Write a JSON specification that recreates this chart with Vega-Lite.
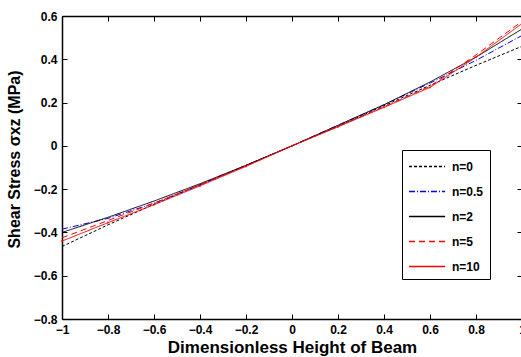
{
  "$schema": "https://vega.github.io/schema/vega-lite/v6.json",
  "autosize": "none",
  "width": 460,
  "height": 303,
  "padding": {"left": 62, "top": 16, "right": 0, "bottom": 38},
  "background": "white",
  "config": {
    "view": {"stroke": null},
    "font": "Liberation Sans",
    "axis": {
      "grid": false,
      "domainColor": "black",
      "domainWidth": 1.5,
      "tickColor": "black",
      "tickWidth": 1,
      "tickSize": -5,
      "labelFont": "Liberation Sans",
      "labelFontWeight": "bold",
      "labelFontSize": 12,
      "labelColor": "black",
      "titleFont": "Liberation Sans",
      "titleFontWeight": "bold",
      "titleFontSize": 16,
      "titleColor": "black"
    }
  },
  "data": {
    "values": [
      {"x": -1, "y": -0.465, "s": "n=0"}, {"x": -0.8, "y": -0.365, "s": "n=0"}, {"x": -0.6, "y": -0.27, "s": "n=0"}, {"x": -0.4, "y": -0.18, "s": "n=0"}, {"x": -0.2, "y": -0.09, "s": "n=0"}, {"x": 0, "y": 0, "s": "n=0"}, {"x": 0.2, "y": 0.09, "s": "n=0"}, {"x": 0.4, "y": 0.185, "s": "n=0"}, {"x": 0.6, "y": 0.28, "s": "n=0"}, {"x": 0.8, "y": 0.372, "s": "n=0"}, {"x": 1, "y": 0.46, "s": "n=0"},
      {"x": -1, "y": -0.385, "s": "n=0.5"}, {"x": -0.8, "y": -0.335, "s": "n=0.5"}, {"x": -0.6, "y": -0.265, "s": "n=0.5"}, {"x": -0.4, "y": -0.18, "s": "n=0.5"}, {"x": -0.2, "y": -0.09, "s": "n=0.5"}, {"x": 0, "y": 0, "s": "n=0.5"}, {"x": 0.2, "y": 0.095, "s": "n=0.5"}, {"x": 0.4, "y": 0.19, "s": "n=0.5"}, {"x": 0.6, "y": 0.29, "s": "n=0.5"}, {"x": 0.8, "y": 0.395, "s": "n=0.5"}, {"x": 1, "y": 0.51, "s": "n=0.5"},
      {"x": -1, "y": -0.4, "s": "n=2"}, {"x": -0.8, "y": -0.33, "s": "n=2"}, {"x": -0.6, "y": -0.255, "s": "n=2"}, {"x": -0.4, "y": -0.175, "s": "n=2"}, {"x": -0.2, "y": -0.09, "s": "n=2"}, {"x": 0, "y": 0, "s": "n=2"}, {"x": 0.2, "y": 0.095, "s": "n=2"}, {"x": 0.4, "y": 0.19, "s": "n=2"}, {"x": 0.6, "y": 0.295, "s": "n=2"}, {"x": 0.8, "y": 0.41, "s": "n=2"}, {"x": 1, "y": 0.54, "s": "n=2"},
      {"x": -1, "y": -0.425, "s": "n=5"}, {"x": -0.8, "y": -0.345, "s": "n=5"}, {"x": -0.6, "y": -0.265, "s": "n=5"}, {"x": -0.4, "y": -0.18, "s": "n=5"}, {"x": -0.2, "y": -0.093, "s": "n=5"}, {"x": 0, "y": 0, "s": "n=5"}, {"x": 0.2, "y": 0.09, "s": "n=5"}, {"x": 0.4, "y": 0.18, "s": "n=5"}, {"x": 0.6, "y": 0.275, "s": "n=5"}, {"x": 0.8, "y": 0.42, "s": "n=5"}, {"x": 1, "y": 0.575, "s": "n=5"},
      {"x": -1, "y": -0.44, "s": "n=10"}, {"x": -0.8, "y": -0.355, "s": "n=10"}, {"x": -0.6, "y": -0.272, "s": "n=10"}, {"x": -0.4, "y": -0.185, "s": "n=10"}, {"x": -0.2, "y": -0.095, "s": "n=10"}, {"x": 0, "y": 0, "s": "n=10"}, {"x": 0.2, "y": 0.088, "s": "n=10"}, {"x": 0.4, "y": 0.178, "s": "n=10"}, {"x": 0.6, "y": 0.27, "s": "n=10"}, {"x": 0.8, "y": 0.41, "s": "n=10"}, {"x": 1, "y": 0.565, "s": "n=10"}
    ]
  },
  "resolve": {"axis": {"x": "independent", "y": "independent"}},
  "layer": [
    {
      "mark": {"type": "line", "strokeWidth": 1},
      "encoding": {
        "x": {"field": "x", "type": "quantitative", "scale": {"domain": [-1, 1], "nice": false},
          "axis": {"title": "Dimensionless Height of Beam", "titleFontSize": 17, "values": [-1, -0.8, -0.6, -0.4, -0.2, 0, 0.2, 0.4, 0.6, 0.8, 1], "labelPadding": 10, "titleY": 20, "titleBaseline": "top", "labelFlush": false, "format": "~g"}},
        "y": {"field": "y", "type": "quantitative", "scale": {"domain": [-0.8, 0.6], "nice": false},
          "axis": {"title": "Shear Stress σxz (MPa)", "values": [-0.8, -0.6, -0.4, -0.2, 0, 0.2, 0.4, 0.6], "labelPadding": 10, "titleX": -40, "titleY": 143, "labelFlush": false, "format": "~g"}},
        "color": {"field": "s", "type": "nominal",
          "scale": {"domain": ["n=0", "n=0.5", "n=2", "n=5", "n=10"], "range": ["black", "#0000ff", "black", "red", "red"]},
          "legend": {"title": null, "orient": "none", "legendX": 340, "legendY": 134, "direction": "vertical",
            "fillColor": "white", "strokeColor": "black", "padding": 6, "rowPadding": 8,
            "symbolType": "M-1,0H2.8", "symbolSize": 361, "symbolStrokeWidth": 1.3, "symbolOpacity": 1, "symbolFillColor": "transparent",
            "labelExpr": "datum.label + '\u2003\u2002'",
            "labelFont": "Liberation Sans", "labelFontWeight": "bold", "labelFontSize": 12, "labelColor": "black", "labelOffset": 23}},
        "strokeDash": {"field": "s", "type": "nominal",
          "scale": {"domain": ["n=0", "n=0.5", "n=2", "n=5", "n=10"], "range": [[3, 2], [6, 2, 1, 2], [1, 0], [6, 4], [1, 0]]}},
        "detail": {"field": "s"}
      }
    },
    {
      "transform": [{"filter": "datum.s == 'n=10'"}],
      "mark": {"type": "point", "filled": true, "size": 5, "color": "red"},
      "encoding": {
        "x": {"field": "x", "type": "quantitative", "axis": {"orient": "top", "labels": false, "title": null, "values": [-1, -0.8, -0.6, -0.4, -0.2, 0, 0.2, 0.4, 0.6, 0.8, 1]}},
        "y": {"field": "y", "type": "quantitative", "axis": {"orient": "right", "labels": false, "title": null, "values": [-0.8, -0.6, -0.4, -0.2, 0, 0.2, 0.4, 0.6]}}
      }
    }
  ]
}
